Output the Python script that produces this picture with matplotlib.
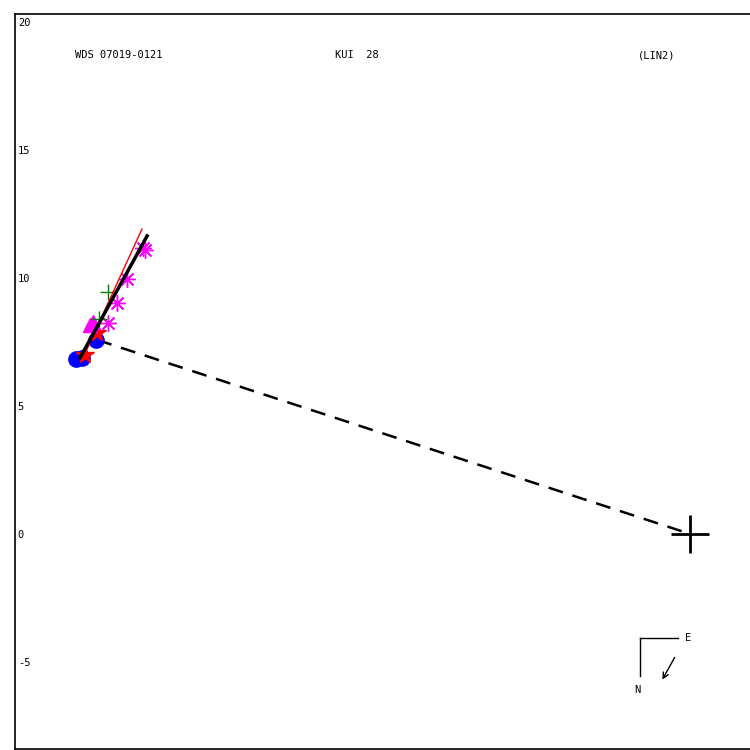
import matplotlib
matplotlib.use("Agg")
import matplotlib.pyplot as plt

# Observations (relative positions, arcsec)
blue_x = [-23.98, -23.75, -23.20]
blue_y = [6.84, 6.88, 7.58]
red_x = [-23.63, -23.16]
red_y = [6.99, 7.85]
tri_x = [-23.44, -23.32]
tri_y = [8.16, 8.28]
ast_x = [-21.37, -21.30, -21.99, -22.38, -22.73]
ast_y = [11.17, 11.08, 9.96, 9.02, 8.24]
plus_x = [-22.73, -23.09]
plus_y = [9.45, 8.40]
# fitted lines
red_line_x = [-23.75, -21.41]
red_line_y = [6.80, 11.91]
fit_line_x = [-23.83, -21.21]
fit_line_y = [6.88, 11.64]
# separation line to primary
sep_x = [-23.16, 0.0]
sep_y = [7.58, 0.0]
yticks = [-5, 0, 5, 10, 15, 20]
title_left = "WDS 07019-0121"
title_mid = "KUI  28"
title_right = "(LIN2)"

fig = plt.figure(figsize=(7.5, 7.5), dpi=100)
ax = fig.add_axes([15/750, 1-749/750, 735/750, 735/750])
ax.set_xlim(-26.37, 2.34)
ax.set_ylim(-8.40, 20.31)

ax.plot(sep_x, sep_y, color='black', lw=1.8, ls=(0, (6, 4)), zorder=2)
ax.plot(red_line_x, red_line_y, color='red', lw=1, zorder=5)
ax.plot(fit_line_x, fit_line_y, color='black', lw=2.5, zorder=6)
ax.plot(blue_x, blue_y, 'o', color='blue', ms=11, mec='blue', zorder=3)
ax.plot(red_x, red_y, '*', color='red', ms=13, zorder=4)
ax.plot(tri_x, tri_y, '^', color='magenta', ms=10, zorder=4)
ax.plot(ast_x, ast_y, marker=(8, 2, 0), ls='none', color='magenta', ms=12, mew=1, zorder=4)
ax.plot(plus_x, plus_y, '+', color='green', ms=12, mew=1, zorder=4)
# primary
ax.plot([0], [0], '+', color='black', ms=27, mew=2, zorder=3)

ax.set_yticks(yticks)
ax.set_yticklabels([str(t) for t in yticks], fontsize=7.5, family='DejaVu Sans Mono')
for lab in ax.get_yticklabels():
    lab.set_horizontalalignment('left')
ax.tick_params(axis='y', length=0, pad=-2)
ax.set_xticks([])
ax.spines['right'].set_visible(False)
for s in ['left', 'top', 'bottom']:
    ax.spines[s].set_linewidth(1.2)

tkw = dict(transform=ax.transAxes, fontsize=7.5, family='DejaVu Sans Mono', va='center')
ax.text(60/735, 1-41/735, title_left, ha='left', **tkw)
ax.text(320/735, 1-41/735, title_mid, ha='left', **tkw)
ax.text(623/735, 1-41/735, title_right, ha='left', **tkw)

# compass
def fx(px): return (px-15)/735
def fy(py): return 1-(py-14)/735
ax.plot([fx(640), fx(678)], [fy(638), fy(638)], color='black', lw=1, transform=ax.transAxes)
ax.plot([fx(640), fx(640)], [fy(638), fy(676)], color='black', lw=1, transform=ax.transAxes)
ax.text(fx(688), fy(638), 'E', ha='center', **tkw)
ax.text(fx(637), fy(690), 'N', ha='center', **tkw)
ax.annotate('', xy=(fx(661), fy(682)), xytext=(fx(676), fy(655)), xycoords='axes fraction',
            arrowprops=dict(arrowstyle='->', color='black', lw=1))

fig.savefig('out.png', dpi=100)
